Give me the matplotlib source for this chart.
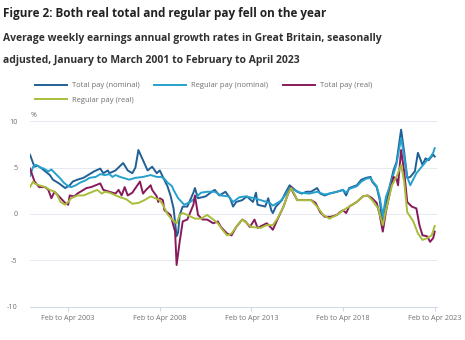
import matplotlib
matplotlib.use("Agg")
import matplotlib.pyplot as plt

plt.rcParams["font.family"] = ["Open Sans", "DejaVu Sans"]

# months counted from Jan to Mar 2001 (0) to Feb to Apr 2023 (265)
total_nom_months = [0, 2, 3, 5, 7, 10, 13, 15, 19, 23, 26, 28, 31, 35, 38, 42, 46, 48, 51, 52,
                    56, 61, 64, 67, 69, 71, 74, 77, 80, 83, 85, 87, 90, 92, 94, 96, 97, 98, 100,
                    103, 107, 108, 110, 115, 119, 121, 124, 128, 131, 133, 135, 139, 142, 146,
                    148, 149, 154, 156, 158, 159, 161, 165, 167, 170, 172, 175, 178, 181, 184,
                    188, 190, 193, 196, 201, 205, 207, 209, 214, 217, 220, 223, 224, 227, 229,
                    231, 233, 236, 238, 240, 243, 245, 247, 249, 252, 254, 257, 259, 261, 264, 265]
total_nom = [6.4, 5.5, 5.1, 5.2, 5.0, 4.6, 4.2, 3.7, 3.3, 2.8, 3.1, 3.5, 3.7, 3.9, 4.2, 4.6, 4.9,
             4.4, 4.7, 4.4, 4.7, 5.5, 4.7, 4.4, 5.0, 6.9, 5.8, 4.7, 5.1, 4.4, 4.7, 4.0, 3.0, 2.0,
             0.6, -2.4, -2.0, -0.1, 0.8, 0.8, 2.3, 2.8, 1.7, 1.9, 2.4, 2.6, 2.0, 2.4, 1.7, 0.8,
             1.3, 1.5, 1.9, 1.3, 2.3, 1.0, 0.8, 1.7, 0.4, 0.1, 0.8, 1.5, 2.2, 3.1, 2.8, 2.4, 2.2,
             2.4, 2.4, 2.8, 2.2, 2.0, 2.2, 2.4, 2.6, 2.0, 2.8, 3.1, 3.7, 3.9, 4.0, 3.5, 2.9, 1.5,
             -1.3, 1.0, 3.3, 4.7, 5.6, 9.1, 6.7, 3.9, 4.0, 4.6, 6.6, 5.3, 6.0, 5.8, 6.4, 6.2]

reg_nom_months = [0, 2, 4, 7, 9, 12, 14, 17, 20, 22, 25, 27, 30, 33, 36, 39, 43, 46, 49, 52, 54,
                  56, 59, 61, 65, 69, 74, 79, 83, 86, 88, 90, 93, 94, 97, 101, 105, 108, 112, 116,
                  121, 125, 130, 133, 137, 141, 144, 147, 151, 157, 159, 164, 167, 170, 173, 177,
                  183, 188, 193, 196, 201, 205, 207, 209, 214, 217, 220, 223, 224, 227, 229, 231,
                  233, 236, 238, 240, 243, 245, 247, 249, 253, 256, 258, 260, 262, 264, 265]
reg_nom = [4.1, 5.1, 5.3, 5.0, 4.9, 4.6, 4.8, 4.3, 3.8, 3.4, 3.0, 2.9, 3.1, 3.4, 3.6, 3.9, 4.0,
           4.3, 4.2, 4.3, 4.0, 4.2, 4.0, 3.9, 3.7, 3.9, 4.0, 4.2, 4.0, 4.0, 3.8, 3.4, 3.0, 2.6,
           1.7, 1.0, 1.3, 1.7, 2.3, 2.4, 2.4, 2.0, 1.9, 1.3, 1.8, 1.9, 1.8, 1.7, 1.5, 1.2, 0.9,
           1.4, 2.0, 2.8, 2.6, 2.3, 2.2, 2.4, 2.1, 2.2, 2.4, 2.6, 2.3, 2.7, 3.0, 3.5, 3.8, 3.9,
           3.6, 3.0, 1.8, -0.2, 1.8, 3.2, 4.3, 5.4, 8.2, 6.2, 4.0, 3.1, 4.4, 5.0, 5.4, 5.8, 6.1,
           6.6, 7.1]

total_real_months = [0, 3, 6, 10, 12, 14, 16, 19, 23, 25, 26, 29, 31, 33, 37, 40, 43, 46, 48, 52,
                     56, 58, 60, 62, 64, 67, 72, 74, 76, 79, 80, 83, 84, 85, 87, 88, 92, 95, 96,
                     98, 100, 103, 107, 108, 110, 113, 116, 120, 123, 125, 129, 132, 135, 139,
                     141, 144, 147, 149, 155, 158, 159, 162, 166, 169, 171, 172, 175, 181, 184,
                     187, 190, 193, 197, 201, 203, 205, 207, 209, 214, 218, 221, 224, 227, 229,
                     231, 233, 236, 238, 240, 241, 243, 245, 247, 250, 253, 255, 257, 260, 262,
                     263, 264, 265]
total_real = [4.9, 3.5, 2.9, 2.9, 2.6, 1.7, 2.4, 1.9, 1.2, 1.0, 2.0, 1.9, 2.2, 2.4, 2.8, 2.9, 3.1,
              3.3, 2.6, 2.4, 2.2, 2.6, 2.0, 2.9, 2.0, 2.3, 3.5, 2.2, 2.6, 3.1, 2.6, 1.9, 1.3, 1.7,
              1.5, 0.4, -0.1, -1.9, -5.5, -3.0, -0.8, -0.6, 1.0, 2.0, -0.1, -0.6, -0.6, -1.0,
              -0.8, -1.4, -2.1, -2.3, -1.4, -0.6, -0.8, -1.4, -0.6, -1.5, -1.0, -1.5, -1.7, -0.6,
              0.8, 2.2, 2.9, 2.4, 1.5, 1.5, 1.5, 1.2, 0.2, -0.3, -0.3, -0.1, 0.2, 0.4, 0.1, 0.8,
              1.3, 1.9, 2.0, 1.7, 1.2, -0.1, -1.9, 0.2, 2.6, 4.0, 3.8, 3.1, 6.9, 4.6, 1.3, 0.8,
              0.6, -1.2, -2.3, -2.4, -3.0, -2.8, -2.6, -1.9]

reg_real_months = [0, 2, 3, 6, 10, 13, 16, 18, 20, 23, 25, 27, 31, 35, 38, 41, 44, 47, 49, 52,
                   59, 63, 67, 71, 75, 79, 82, 85, 87, 90, 93, 96, 98, 100, 103, 108, 112, 116,
                   120, 123, 126, 129, 132, 135, 139, 142, 145, 151, 155, 159, 162, 166, 169,
                   171, 173, 175, 180, 184, 188, 192, 196, 201, 205, 209, 214, 218, 221, 224,
                   228, 231, 233, 237, 240, 243, 245, 247, 251, 254, 257, 260, 263, 265]
reg_real = [2.9, 3.5, 3.3, 3.1, 2.9, 2.6, 2.4, 2.0, 1.3, 1.0, 1.3, 1.7, 2.0, 2.0, 2.2, 2.4, 2.6,
            2.2, 2.4, 2.3, 1.8, 1.6, 1.1, 1.2, 1.5, 1.9, 1.7, 1.5, 1.0, 0.0, -0.6, -1.0, -0.1,
            0.1, -0.1, -0.5, -0.5, -0.1, -0.6, -1.0, -1.7, -2.3, -2.1, -1.4, -0.6, -1.0, -1.4,
            -1.5, -1.2, -1.2, -0.5, 0.8, 2.2, 2.8, 2.2, 1.5, 1.5, 1.5, 0.8, -0.1, -0.5, -0.1,
            0.4, 0.8, 1.3, 1.9, 2.0, 1.5, 0.6, -1.2, 0.4, 3.1, 4.0, 5.3, 3.5, 0.2, -0.8, -2.1,
            -2.8, -2.6, -2.3, -1.3]

tick_months = [25, 85, 145, 205, 265]
tick_labels = ["Feb to Apr 2003", "Feb to Apr 2008", "Feb to Apr 2013",
               "Feb to Apr 2018", "Feb to Apr 2023"]

W, H = 465, 340
fig = plt.figure(figsize=(W / 100, H / 100), dpi=100)
ax = fig.add_axes([30 / W, 1 - 306.7 / H, 407 / W, (306.7 - 121.3) / H])

ln_tn, = ax.plot(total_nom_months, total_nom, color="#206095", lw=1.4, label="Total pay (nominal)")
ln_rn, = ax.plot(reg_nom_months, reg_nom, color="#27a0cc", lw=1.4, label="Regular pay (nominal)")
ln_tr, = ax.plot(total_real_months, total_real, color="#871a5b", lw=1.4, label="Total pay (real)")
ln_rr, = ax.plot(reg_real_months, reg_real, color="#a8bd3a", lw=1.4, label="Regular pay (real)")

ax.set_xlim(0, 266.5)
ax.set_ylim(-10, 10)
ax.set_yticks([-10, -5, 0, 5, 10])
ax.set_yticklabels(["-10", "-5", "0", "5", "10"])
ax.set_xticks(tick_months)
ax.set_xticklabels(tick_labels)
ax.tick_params(axis="y", length=0, pad=9, labelsize=5.2, labelcolor="#707070")
ax.tick_params(axis="x", length=3, width=0.6, color="#c8d0e0", pad=3,
               labelsize=5.2, labelcolor="#707070")
ax.grid(axis="y", color="#e2e6ee", lw=0.6)
ax.set_axisbelow(True)
for side in ["top", "right", "left"]:
    ax.spines[side].set_visible(False)
ax.spines["bottom"].set_color("#c8d0e0")
ax.spines["bottom"].set_linewidth(0.6)
ax.text(0.002, 1.01, "%", transform=ax.transAxes, fontsize=5, color="#707070",
        ha="left", va="bottom")

fig.text(3 / W, 1 - 13 / H, "Figure 2: Both real total and regular pay fell on the year",
         fontsize=8.5, fontweight="bold", color="#222222", va="center")
fig.text(3 / W, 1 - 38 / H, "Average weekly earnings annual growth rates in Great Britain, seasonally",
         fontsize=7.5, fontweight="bold", color="#323132", va="center")
fig.text(3 / W, 1 - 60 / H, "adjusted, January to March 2001 to February to April 2023",
         fontsize=7.5, fontweight="bold", color="#323132", va="center")

fig.legend(handles=[ln_tn, ln_rr, ln_rn, ln_tr], ncol=3, loc="upper left",
           bbox_to_anchor=(35 / W, 1 - 82 / H), frameon=False, fontsize=5.5,
           handlelength=4.2, handletextpad=0.65, columnspacing=1.9, labelspacing=0.95,
           labelcolor="#707070", borderaxespad=0, borderpad=0)

fig.savefig("out.png", dpi=100, facecolor="white")
